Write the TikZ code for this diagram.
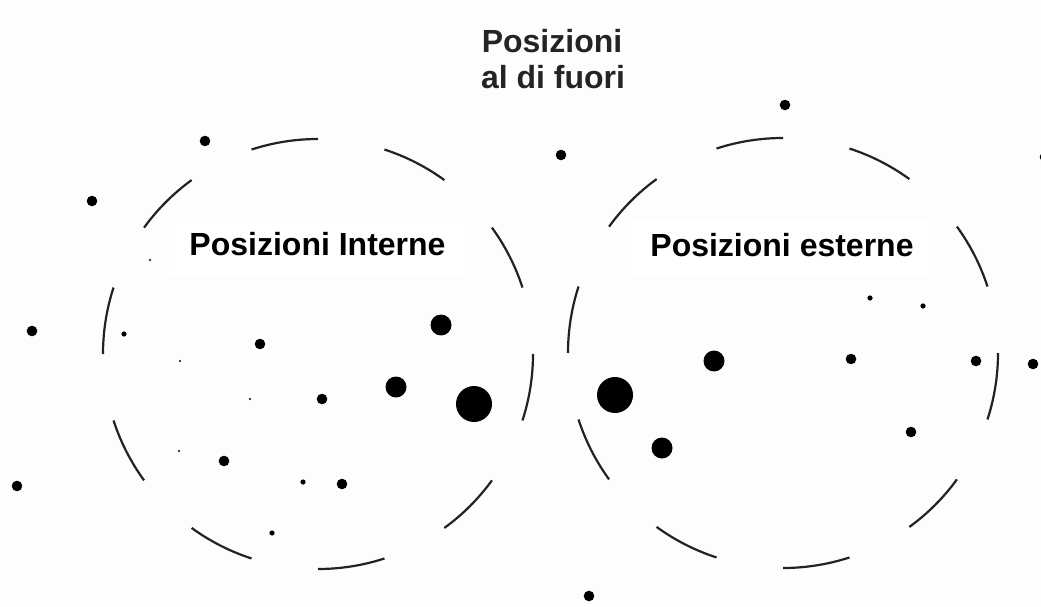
\documentclass[tikz,border=0pt]{standalone}
\usepackage{fontspec}
\setmainfont{Liberation Sans}
\usepackage{tikz}
\definecolor{paper}{RGB}{253,253,251}
\definecolor{ringgrey}{RGB}{34,34,34}
\definecolor{titlegrey}{RGB}{36,36,36}

\begin{document}
\begin{tikzpicture}[x=1pt, y=1pt,
    ring/.style={draw=ringgrey, line width=2.2pt},
    lbl/.style={font=\bfseries\fontsize{32}{36}\selectfont, anchor=base, inner sep=0pt},
    lblbox/.style={lbl, fill=white, inner xsep=20pt, inner ysep=0pt, text depth=20pt, text height=38pt}]
    \fill[paper] (0,0) rectangle (1041,606);
    \useasboundingbox (0,0) rectangle (1041,606);
    \coordinate (lc) at (318,252);
    \coordinate (rc) at (783,253);
    % dashed rings
    \foreach \c in {lc,rc}
      \foreach \a in {18,54,...,342}
        \draw[ring] (\c) ++(\a:215) arc[start angle=\a, delta angle=18, radius=215];
    \node[lbl, text=titlegrey] (out1) at (552,553) {Posizioni};
    \node[lbl, text=titlegrey] (out2) at (553,517) {al di fuori};
    \node[lblbox] (inner) at (317.5,350) {Posizioni Interne};
    \node[lblbox] (outer) at (782,349) {Posizioni esterne};
    % points
    \foreach \x/\y/\r in {205/465/5.3, 92/405/5.3, 150/346/1.2, 32/275/5.3, 124/272/2.6,
        260/262/5.3, 180/245/1.2, 441/281/10.5, 396/219/10.5, 474/202/18, 250/207/1.2,
        322/207/5.3, 179/155/1.2, 224/145/5.3, 303/124/2.6, 342/122/5.3, 17/120/5.3,
        272/73/2.6,
        785/501/5.3, 561/451/5.3, 1045/449/5.3, 870/308/2.6, 923/300/2.6, 714/245/10.5,
        851/247/5.3, 976/245/5.3, 1033/242/5.3, 615/211/18, 662/158/10.5, 911/174/5.3,
        589/10/5.3}
      \fill (\x,\y) circle[radius=\r pt];
\end{tikzpicture}
\end{document}
